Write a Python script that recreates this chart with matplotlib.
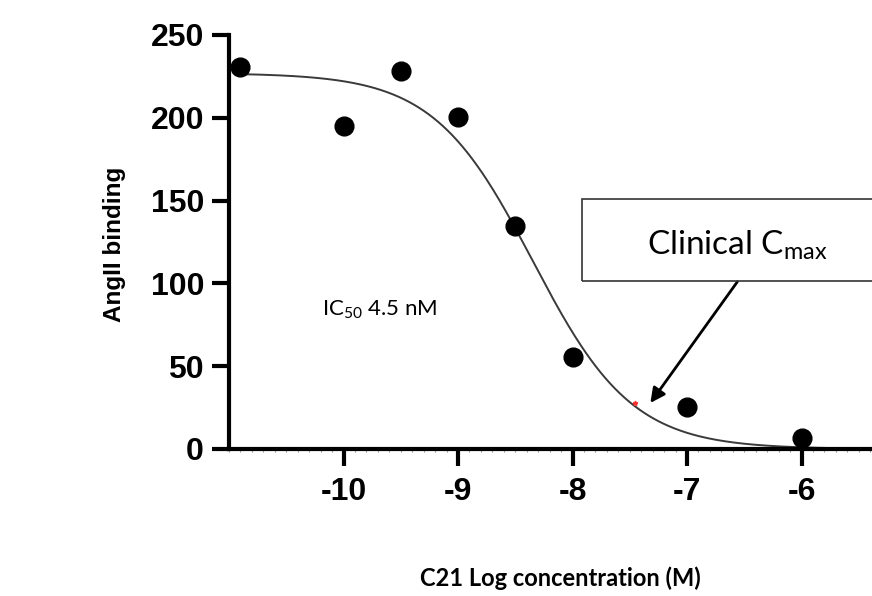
import numpy as np
import matplotlib
matplotlib.use('Agg')
import matplotlib.pyplot as plt
from matplotlib.patches import Rectangle
from matplotlib.ticker import MultipleLocator

# Data
log_conc = [-10.9, -10.0, -9.5, -9.0, -8.5, -8.0, -7.0, -6.0]
binding  = [230.7, 195.2, 228.4, 200.3, 134.7, 55.4, 25.6, 6.5]

# Fitted curve parameters (log(inhibitor) vs response)
TOP      = 227.0
BOTTOM   = 0.0
LOG_IC50 = np.log10(4.5e-9)
HILL     = 1.0

CMAX_POINT = (-7.45, 28.0)   # red marker on the curve
x_ticks = [-10, -9, -8, -7, -6]
y_ticks = [0, 50, 100, 150, 200, 250]

plt.rcParams['mathtext.default'] = 'regular'
plt.rcParams['axes.unicode_minus'] = False

W, H = 872, 596
fig = plt.figure(figsize=(W/100, H/100), dpi=100)
ax = fig.add_axes([229/W, 1 - 449/H, 1 - 229/W, (449 - 35)/H])

xs = np.linspace(log_conc[0], -5.3, 400)
curve = BOTTOM + (TOP - BOTTOM) / (1 + 10 ** (HILL * (xs - LOG_IC50)))
ax.plot(xs, curve, color='#3a3a3a', lw=1.4, zorder=2)
ax.plot(log_conc, binding, 'o', color='black', ms=13.5, zorder=3, clip_on=False)
ax.plot(*CMAX_POINT, marker='*', color='#ff3030', ms=3.5, zorder=4)

ax.set_xlim(-11, -11 + (W - 229) / 114.5)
ax.set_ylim(0, 250)
ax.set_xticks(x_ticks)
ax.set_yticks(y_ticks)
ax.xaxis.set_minor_locator(MultipleLocator(0.1))

for s in ['top', 'right']:
    ax.spines[s].set_visible(False)
for s in ['left', 'bottom']:
    ax.spines[s].set_linewidth(3)
    ax.spines[s].set_capstyle('projecting')

ax.tick_params(axis='both', which='major', length=12, width=3, color='black')
ax.tick_params(axis='x', which='major', pad=8)
ax.tick_params(axis='y', which='major', pad=6)
ax.tick_params(axis='x', which='minor', length=2, width=0.8, color='#999999')
for lab in ax.get_xticklabels() + ax.get_yticklabels():
    lab.set_family('Liberation Sans')
    lab.set_fontweight('bold')
    lab.set_fontsize(23)

# Axis titles
fig.text(114/W, 1 - 244/H, 'AngII binding', rotation=90, ha='center', va='center',
         family='Liberation Sans', fontweight='bold', fontsize=17.5)
fig.text(560/W, 1 - 578/H, 'C21 Log concentration (M)', ha='center', va='center',
         family='Lato', fontweight='bold', fontsize=17)

# IC50 label
fig.text(380/W, 1 - 310/H, r'IC$_{50}$ 4.5 nM', ha='center', va='center',
         family='Lato', fontsize=16)

# Clinical Cmax callout
fig.patches.append(Rectangle((582/W, 1 - 281/H), 0.5, (281 - 199)/H,
                             transform=fig.transFigure, fill=False,
                             edgecolor='#333333', lw=1.2))
fig.text(737/W, 1 - 245/H, r'Clinical C$_{max}$', ha='center', va='center',
         family='Lato', fontsize=24)
ax.annotate('', xy=(-7.32, 27.8), xytext=(-6.56, 101),
            arrowprops=dict(arrowstyle='-|>', color='black', lw=2,
                            mutation_scale=22, shrinkA=0, shrinkB=0))

fig.savefig('out.png', dpi=100)
